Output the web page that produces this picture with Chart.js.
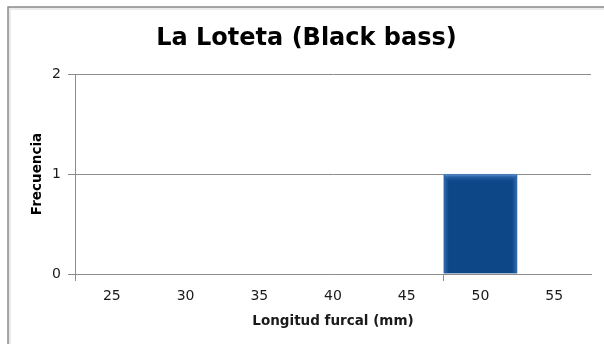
<!DOCTYPE html>
<html>
<head>
<meta charset="utf-8">
<script src="https://cdn.jsdelivr.net/npm/chart.js@4/dist/chart.umd.min.js"></script>
<style>
  html, body { margin: 0; padding: 0; background: #ffffff; }
  #wrap { width: 604px; height: 344px; position: relative; }
</style>
</head>
<body>
<div id="wrap"><canvas id="c" width="604" height="344"></canvas></div>
<script>
// Length classes (mm) and how many fish fell in each
const categories = ['25', '30', '35', '40', '45', '50', '55'];
const frequencies = [0, 0, 0, 0, 0, 1, 0];
const yTickValues = [0, 1, 2];

const chartTitle = 'La Loteta (Black bass)';
const xTitle = 'Longitud furcal (mm)';
const yTitle = 'Frecuencia';

const FONT = '"DejaVu Sans", Verdana, sans-serif';
const GRID = '#8c8c8c';
const BAR_BASE = '#0d4788';

// Outer frame of the chart object
const framePlugin = {
  id: 'frame',
  beforeDraw(chart) {
    const ctx = chart.ctx;
    ctx.save();
    ctx.fillStyle = '#ffffff';
    ctx.fillRect(0, 0, chart.width, chart.height);
    ctx.strokeStyle = 'rgba(0,0,0,0.08)';
    ctx.lineWidth = 3;
    ctx.strokeRect(9.5, 8.5, 800, 500);
    ctx.strokeStyle = '#8a8a8a';
    ctx.lineWidth = 1.5;
    ctx.strokeRect(8, 7, 800, 500);
    ctx.restore();
  }
};

// Shading of each column: lighter side edges and a bevel along the top
const shadePlugin = {
  id: 'shade',
  afterDatasetsDraw(chart) {
    const ctx = chart.ctx;
    const meta = chart.getDatasetMeta(0);
    meta.data.forEach((bar, i) => {
      if (!frequencies[i]) return;
      const left = bar.x - bar.width / 2;
      const right = bar.x + bar.width / 2;
      const top = bar.y;
      const bottom = bar.base;
      if (![left, right, top, bottom].every(Number.isFinite)) return;
      ctx.save();
      const side = ctx.createLinearGradient(left, 0, right, 0);
      side.addColorStop(0, 'rgba(70,130,200,0.7)');
      side.addColorStop(0.07, 'rgba(70,130,200,0)');
      side.addColorStop(0.93, 'rgba(70,130,200,0)');
      side.addColorStop(1, 'rgba(70,130,200,0.7)');
      ctx.fillStyle = side;
      ctx.fillRect(left + 1, top + 1, right - left - 2, bottom - top - 1);

      const g = ctx.createLinearGradient(0, top, 0, top + 9);
      g.addColorStop(0, 'rgba(120,170,230,0.9)');
      g.addColorStop(0.35, 'rgba(60,115,185,0.55)');
      g.addColorStop(1, 'rgba(16,74,140,0)');
      ctx.fillStyle = g;
      ctx.beginPath();
      ctx.moveTo(left + 1, top + 1);
      ctx.lineTo(right - 1, top + 1);
      ctx.lineTo(right - 6, top + 9);
      ctx.lineTo(left + 6, top + 9);
      ctx.closePath();
      ctx.fill();
      ctx.restore();
    });
  }
};

new Chart(document.getElementById('c'), {
  type: 'bar',
  data: {
    labels: categories,
    datasets: [{
      data: frequencies,
      backgroundColor: BAR_BASE,
      borderColor: '#5d8fc6',
      borderWidth: 1,
      barPercentage: 1.0,
      categoryPercentage: 1.0
    }]
  },
  options: {
    responsive: false,
    animation: false,
    layout: { padding: { left: 22, right: 13, top: 0, bottom: 0 } },
    plugins: {
      legend: { display: false },
      tooltip: { enabled: false },
      title: {
        display: true,
        text: chartTitle,
        color: '#000000',
        font: { family: FONT, size: 24, weight: 'bold', lineHeight: 1.2 },
        padding: { top: 24.6, bottom: 20.6 }
      }
    },
    scales: {
      x: {
        afterFit(s) { s.height = 70; },
        grid: {
          offset: true,
          drawOnChartArea: false,
          drawTicks: true,
          tickLength: 7,
          color: (ctx) => (ctx.index === 0 || ctx.index === 5) ? GRID : 'rgba(0,0,0,0)'
        },
        border: { display: true, color: GRID, width: 1 },
        ticks: {
          color: '#1a1a1a',
          font: { family: FONT, size: 14 },
          padding: 7,
          maxRotation: 0
        },
        title: {
          display: true,
          text: xTitle,
          color: '#1a1a1a',
          font: { family: FONT, size: 13.5, weight: 'bold', lineHeight: 1.2 },
          padding: { top: 14, bottom: 14 }
        }
      },
      y: {
        min: 0,
        max: 2,
        afterFit(s) { s.width = 53; },
        afterBuildTicks(s) { s.ticks = yTickValues.map(v => ({ value: v })); },
        grid: { color: GRID, lineWidth: 1, tickLength: 7, drawTicks: true },
        border: { display: true, color: GRID, width: 1 },
        ticks: {
          color: '#1a1a1a',
          font: { family: FONT, size: 14 },
          padding: 7
        },
        title: {
          display: true,
          text: yTitle,
          color: '#000000',
          font: { family: FONT, size: 13.5, weight: 'bold', lineHeight: 1.2 },
          padding: { top: 7.5, bottom: 7.5 }
        }
      }
    }
  },
  plugins: [framePlugin, shadePlugin]
});
</script>
</body>
</html>
